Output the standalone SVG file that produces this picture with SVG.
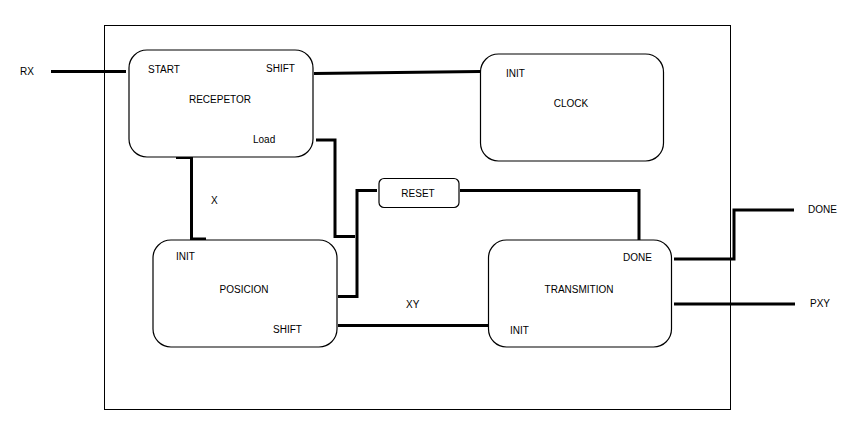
<svg xmlns="http://www.w3.org/2000/svg" width="859" height="436" viewBox="0 0 859 436">
<style>
.box{fill:#fff;stroke:#000;stroke-width:1.2}
.w{fill:none;stroke:#000;stroke-width:3}
text{font-family:"Liberation Sans",Arial,sans-serif;font-size:10px;fill:#000}
.c{text-anchor:middle}
</style>
<rect width="859" height="436" fill="#fff"/>
<rect x="104.5" y="25.5" width="626" height="384" fill="none" stroke="#000" stroke-width="1"/>
<g id="connectors">
<path class="w" d="M51 71.5H126"/>
<path class="w" d="M314 73.5L480 71.5"/>
<path class="w" d="M316 140H335V236.5H355"/>
<path class="w" d="M377 190.5H357V296.5H338"/>
<path class="w" d="M460 190.5H639V240"/>
<path class="w" d="M338 325.5H488"/>
<path class="w" d="M176 157.5H191.5V239H206"/>
<path class="w" d="M674 259H734V210H794"/>
<path class="w" d="M674 304H795"/>
</g>
<text x="20" y="75">RX</text>
<text x="808" y="213">DONE</text>
<text x="810" y="307">PXY</text>
<text x="211" y="204">X</text>
<text x="406" y="308">XY</text>
<g id="recepetor">
<rect class="box" x="129" y="50" width="184" height="107" rx="18"/>
<text x="148" y="73">START</text>
<text x="266" y="72">SHIFT</text>
<text x="220" y="103" class="c">RECEPETOR</text>
<text x="253" y="143">Load</text>
</g>
<g id="clock">
<rect class="box" x="480.5" y="54" width="183" height="107" rx="18"/>
<text x="506" y="77">INIT</text>
<text x="571" y="107" class="c">CLOCK</text>
</g>
<g id="reset">
<rect class="box" x="379" y="178.5" width="80" height="29" rx="5"/>
<text x="418" y="197" class="c">RESET</text>
</g>
<g id="posicion">
<rect class="box" x="153" y="240" width="184" height="107" rx="18"/>
<text x="176" y="260">INIT</text>
<text x="244" y="293" class="c">POSICION</text>
<text x="273" y="333">SHIFT</text>
</g>
<g id="transmition">
<rect class="box" x="488.5" y="240" width="183" height="107" rx="18"/>
<text x="623" y="261">DONE</text>
<text x="579" y="293" class="c">TRANSMITION</text>
<text x="510" y="334">INIT</text>
</g>
</svg>
